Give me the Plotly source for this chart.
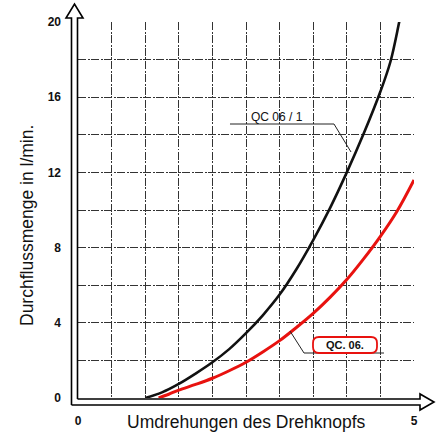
import plotly.graph_objects as go

# ---- data ----
qc061_x = [1.0, 1.25, 1.5, 1.75, 2.0, 2.25, 2.5, 2.75, 3.0, 3.25, 3.5, 3.75, 4.0, 4.25, 4.5, 4.65, 4.78, 4.85]
qc061_y = [0.0, 0.3, 0.75, 1.3, 1.9, 2.6, 3.45, 4.4, 5.5, 6.85, 8.4, 10.1, 12.0, 14.05, 16.3, 17.9, 20.0, 21.2]
qc06_x = [1.2, 1.35, 1.5, 1.75, 2.0, 2.25, 2.5, 2.75, 3.0, 3.25, 3.5, 3.75, 4.0, 4.25, 4.5, 4.75, 5.0]
qc06_y = [0.0, 0.2, 0.42, 0.72, 1.05, 1.45, 1.9, 2.45, 3.05, 3.75, 4.5, 5.35, 6.3, 7.4, 8.6, 9.95, 11.6]
y_ticks = [0, 4, 8, 12, 16, 20]
x_ticks = [0, 5]
series_names = ["QC 06 / 1", "QC. 06."]
x_title = "Umdrehungen des Drehknopfs"
y_title = "Durchflussmenge in l/min."

W, H = 442, 439
L, R, T, B = 78, 28, 22, 41
PW, PH = W - L - R, H - T - B


def px(p):
    return (p - L) / PW


def py(p):
    return (H - B - p) / PH


def path(points):
    return "M " + " L ".join(f"{px(a):.5f},{py(b):.5f}" for a, b in points)


fig = go.Figure()
fig.add_trace(go.Scatter(x=qc061_x, y=qc061_y, mode="lines", name=series_names[0],
                         line=dict(color="#111111", width=2.6, shape="spline", smoothing=1.0),
                         cliponaxis=True, showlegend=False))
fig.add_trace(go.Scatter(x=qc06_x, y=qc06_y, mode="lines", name=series_names[1],
                         line=dict(color="#e8120f", width=3, shape="spline", smoothing=1.0),
                         showlegend=False))

grid = dict(showgrid=True, gridcolor="#333333", gridwidth=1, griddash="8px,1.5px,2px,1.5px")
fig.update_xaxes(range=[0, 5], tickvals=x_ticks, ticktext=[str(v) for v in x_ticks],
                 ticks="", ticklabelstandoff=14, zeroline=False, showline=False,
                 tickfont=dict(family="Arial", size=12, color="#111", weight="bold"),
                 minor=dict(dtick=0.5, tick0=0, **grid), **grid)
fig.update_yaxes(range=[0, 20], tickvals=y_ticks, ticktext=[str(v) for v in y_ticks],
                 ticks="", ticklabelstandoff=16, zeroline=False, showline=False,
                 tickfont=dict(family="Arial", size=12, color="#111", weight="bold"),
                 minor=dict(dtick=2, tick0=0, **grid), **grid)

shapes = []
# y axis double line with hollow arrow
shapes.append(dict(type="path", xref="paper", yref="paper",
                   path=path([(77.5, 399), (77.5, 18), (83, 18), (74.5, 4), (66, 18), (71.5, 18), (71.5, 405)]),
                   line=dict(color="black", width=1.6)))
# x axis double line with hollow arrow
shapes.append(dict(type="path", xref="paper", yref="paper",
                   path=path([(77.5, 399), (420, 399), (420, 394), (434, 402), (420, 410), (420, 405), (71.5, 405)]),
                   line=dict(color="black", width=1.6)))
# leader for QC 06 / 1
shapes.append(dict(type="path", xref="paper", yref="paper",
                   path=path([(230, 124), (334, 124), (351, 152)]),
                   line=dict(color="#222", width=1)))
# leader for QC. 06.
shapes.append(dict(type="path", xref="paper", yref="paper",
                   path=path([(290, 331), (304, 353), (384, 353)]),
                   line=dict(color="#222", width=1)))
# rounded red box
x0, x1, y0, y1, r = 313, 377, 337, 353, 6
box = (f"M {px(x0 + r):.5f},{py(y0):.5f} L {px(x1 - r):.5f},{py(y0):.5f} "
       f"Q {px(x1):.5f},{py(y0):.5f} {px(x1):.5f},{py(y0 + r):.5f} "
       f"L {px(x1):.5f},{py(y1 - r):.5f} Q {px(x1):.5f},{py(y1):.5f} {px(x1 - r):.5f},{py(y1):.5f} "
       f"L {px(x0 + r):.5f},{py(y1):.5f} Q {px(x0):.5f},{py(y1):.5f} {px(x0):.5f},{py(y1 - r):.5f} "
       f"L {px(x0):.5f},{py(y0 + r):.5f} Q {px(x0):.5f},{py(y0):.5f} {px(x0 + r):.5f},{py(y0):.5f} Z")
shapes.append(dict(type="path", xref="paper", yref="paper", path=box,
                   fillcolor="white", line=dict(color="#e8120f", width=1.8)))


def ann(x, y, text, **font):
    return dict(x=px(x), y=py(y), xref="paper", yref="paper", text=text, showarrow=False,
                xanchor="center", yanchor="middle", font=dict(family="Arial", color="#111", **font))


annotations = [
    ann(277, 117, series_names[0], size=12),
    ann(345, 345, series_names[1], size=11, weight="bold"),
    ann(246, 422, x_title, size=17.5),
    dict(ann(27, 226, y_title, size=17.5), textangle=-90),
]

fig.update_layout(width=W, height=H, margin=dict(l=L, r=R, t=T, b=B, autoexpand=False),
                  paper_bgcolor="white", plot_bgcolor="white",
                  shapes=shapes, annotations=annotations, showlegend=False)
fig.write_html("out.html", config={"displayModeBar": False},
               post_script="document.body.style.margin='0px';")
